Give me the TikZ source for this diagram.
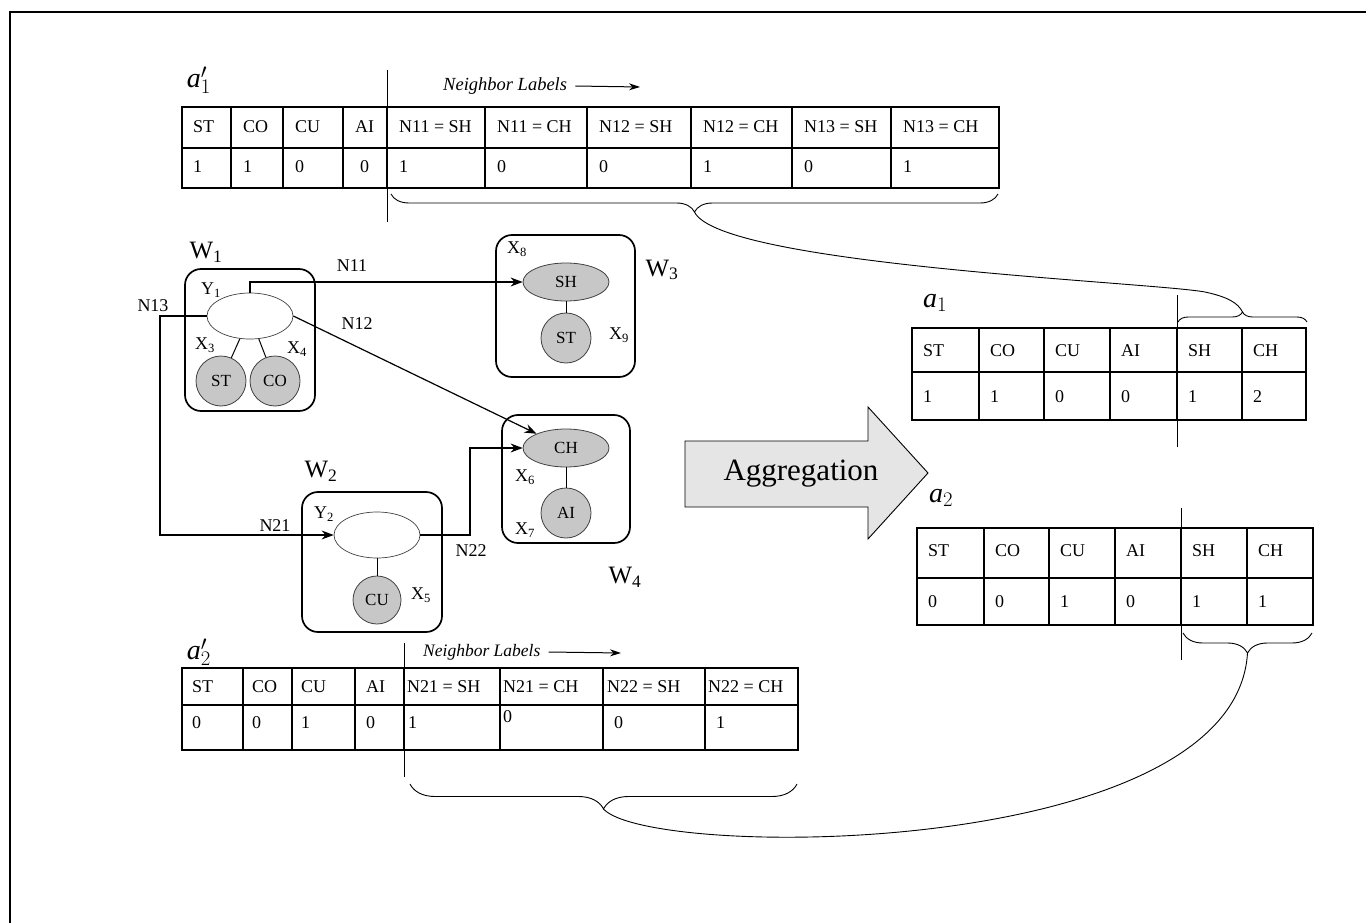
\documentclass[tikz,border=0pt]{standalone}
\usepackage{fontspec}
\setmainfont{Liberation Serif}
\usetikzlibrary{arrows.meta,shapes.geometric,decorations.pathreplacing,calc}
\begin{document}
\begin{tikzpicture}[x=1pt,y=-1pt,
  tl/.style={line width=1.1pt},
  divl/.style={line width=1pt},
  cell/.style={anchor=west, inner sep=0pt, text height=12pt, text depth=0pt, font=\fontsize{18}{21}\selectfont},
  lab/.style={inner sep=0pt, font=\fontsize{18}{21}\selectfont},
  wlab/.style={inner sep=0pt, font=\fontsize{25}{29}\selectfont},
  alab/.style={inner sep=0pt, font=\fontsize{28}{32}\selectfont},
  nlab/.style={inner sep=0pt, anchor=west, font=\fontsize{18.5}{21}\selectfont\itshape},
  wbox/.style={draw, line width=1.7pt, rounded corners=16pt},
  gnode/.style={draw=black!75, line width=0.8pt, fill=black!22, font=\fontsize{17}{20}\selectfont, inner sep=0pt},
  cnode/.style={gnode, circle, minimum size=50pt},
  enode/.style={gnode, ellipse, minimum width=86pt, minimum height=38pt},
  ynode/.style={draw=black!75, line width=0.7pt, fill=white, ellipse, minimum width=86pt, minimum height=46pt, inner sep=0pt},
  arr/.style={line width=1.2pt, -{Stealth[length=12pt,width=9pt]}},
  sarr/.style={line width=1pt, -{Stealth[length=11pt,width=7pt]}},
  brc/.style={decorate, line width=0.9pt},
  edge/.style={line width=1pt},
]
\useasboundingbox (0,0) rectangle (1366,923);
% frame
\draw[line width=2pt] (10,923) -- (10,12.5) -- (1366,12.5);

% ---------- top table a'1 ----------
\node[alab] (a1p) at (199,80) {$\hbox{\itshape a}'_1$};
\draw[tl] (182,107) rectangle (999,188);
\draw[tl] (182,148) -- (999,148);
\foreach \x in {231,283,343,387,485,587,691,792,891} \draw[tl] (\x,107) -- (\x,188);
\foreach \x/\t [count=\i] in {193/ST,243/CO,295/CU,355/AI,399/N11 = SH,497/N11 = CH,599/N12 = SH,703/N12 = CH,804/N13 = SH,903/N13 = CH}
  \node[cell] (tah\i) at (\x,127) {\t};
\foreach \x/\t [count=\i] in {193/1,243/1,295/0,360/0,399/1,497/0,599/0,703/1,804/0,903/1}
  \node[cell] (tav\i) at (\x,167) {\t};
\draw[divl] (387,70) -- (387,222);
\node[nlab] (nl1) at (443,86) {Neighbor Labels};
\coordinate (nl1end) at (640,87);
\draw[sarr] ([xshift=8pt]nl1.east) -- (nl1end);
\draw[brc, decoration={brace, mirror, amplitude=18pt}] (391,194) -- (998,194);
\coordinate (b1tip) at (694.5,212);

% ---------- a1 table ----------
\node[alab] (a1) at (935,303) {$\hbox{\itshape a}_1$};
\draw[tl] (912,328) rectangle (1306,420);
\draw[tl] (912,372) -- (1306,372);
\foreach \x in {979,1044,1110,1177,1242} \draw[tl] (\x,328) -- (\x,420);
\foreach \x/\t [count=\i] in {923/ST,990/CO,1055/CU,1121/AI,1188/SH,1253/CH}
  \node[cell] (a1h\i) at (\x,350) {\t};
\foreach \x/\t [count=\i] in {923/1,990/1,1055/0,1121/0,1188/1,1253/2}
  \node[cell] (a1v\i) at (\x,396) {\t};
\draw[divl] (1177,295) -- (1177,447);
\draw[brc, decoration={brace, amplitude=10pt}] (1178,322) -- (1307,322);
\coordinate (ba1tip) at (1242.5,312);

% ---------- a2 table ----------
\node[alab] (a2) at (941,498) {$\hbox{\itshape a}_2$};
\draw[tl] (917,528) rectangle (1313,625);
\draw[tl] (917,578) -- (1313,578);
\foreach \x in {984,1049,1115,1181,1247} \draw[tl] (\x,528) -- (\x,625);
\foreach \x/\t [count=\i] in {928/ST,995/CO,1060/CU,1126/AI,1192/SH,1258/CH}
  \node[cell] (a2h\i) at (\x,550) {\t};
\foreach \x/\t [count=\i] in {928/0,995/0,1060/1,1126/0,1192/1,1258/1}
  \node[cell] (a2v\i) at (\x,601) {\t};
\draw[divl] (1181,508) -- (1181,660);
\draw[brc, decoration={brace, mirror, amplitude=20pt}] (1183,633) -- (1312,633);
\coordinate (ba2tip) at (1247.5,653);

% ---------- bottom table a'2 ----------
\node[alab] (a2p) at (199,652) {$\hbox{\itshape a}'_2$};
\draw[tl] (182,668) rectangle (798,750);
\draw[tl] (182,705) -- (798,705);
\foreach \x in {243,292,355,404,500,603,705} \draw[tl] (\x,668) -- (\x,750);
\foreach \x/\t [count=\i] in {192/ST,252/CO,301/CU,366/AI,407/N21 =\ SH,503/N21 =\ CH,607/N22 =\ SH,708/N22 =\ CH}
  \node[cell] (tbh\i) at (\x,686) {\t};
\foreach \x/\y/\t [count=\i] in {192/722/0,252/722/0,301/722/1,366/722/0,408/722/1,503/716/0,614/722/0,716/722/1}
  \node[cell] (tbv\i) at (\x,\y) {\t};
\draw[divl] (404,643) -- (404,777);
\node[nlab, font=\fontsize{17.5}{20}\selectfont\itshape] (nl2) at (423,652) {Neighbor Labels};
\coordinate (nl2end) at (621,653);
\draw[sarr] ([xshift=8pt]nl2.east) -- (nl2end);
\draw[brc, decoration={brace, mirror, amplitude=25pt}] (410,784) -- (797,784);
\coordinate (b2tip) at (603.5,809);

% ---------- long connectors ----------
\draw[line width=0.9pt] (b1tip) .. controls (720,265) and (1150,282) .. (1205,292) .. controls (1228,297) and (1238,303) .. (ba1tip);
\draw[line width=0.9pt] (b2tip) .. controls (650,860) and (1235,860) .. (ba2tip);

% ---------- graph ----------
\node[wbox, minimum width=130pt, minimum height=142pt] (W1box) at (250,340) {};
\node[wbox, minimum width=140pt, minimum height=140pt] (W2box) at (372,562) {};
\node[wbox, minimum width=139pt, minimum height=142pt] (W3box) at (565.5,306) {};
\node[wbox, minimum width=128pt, minimum height=128pt] (W4box) at (566,479) {};

\node[wlab] (W1) at (206,252) {W\textsubscript{1}};
\node[wlab] (W2) at (321,471) {W\textsubscript{2}};
\node[wlab] (W3) at (662,270) {W\textsubscript{3}};
\node[wlab] (W4) at (625,577) {W\textsubscript{4}};

\node[ynode] (Y1) at (250,316) {};
\node[cnode] (ST1) at (221,381) {ST};
\node[cnode] (CO1) at (275,381) {CO};
\node[ynode] (Y2) at (377,535) {};
\node[cnode, minimum size=48pt] (CU) at (377,600) {CU};
\node[enode] (SH) at (566,282) {SH};
\node[cnode] (ST3) at (566,338) {ST};
\node[enode] (CH) at (566,448) {CH};
\node[cnode] (AI) at (566,513) {AI};

\draw[edge] (Y1) -- (ST1);
\draw[edge] (Y1) -- (CO1);
\draw[edge] (Y2) -- (CU);
\draw[edge] (SH) -- (ST3);
\draw[edge] (CH) -- (AI);

\node[lab] (lY1) at (211,290) {Y\textsubscript{1}};
\node[lab] (lX3) at (205,345) {X\textsubscript{3}};
\node[lab] (lX4) at (297,349) {X\textsubscript{4}};
\node[lab] (lX8) at (517,249) {X\textsubscript{8}};
\node[lab] (lX9) at (619,335) {X\textsubscript{9}};
\node[lab] (lX6) at (525,477) {X\textsubscript{6}};
\node[lab] (lX7) at (525,530) {X\textsubscript{7}};
\node[lab] (lY2) at (324,514) {Y\textsubscript{2}};
\node[lab] (lX5) at (421,595) {X\textsubscript{5}};

\coordinate (n13c) at (160,316);
\coordinate (n22c) at (470,448);
\draw[arr] (Y1.north) |- (SH.west);
\draw[arr] (Y1.east) -- (CH);
\draw[arr] (Y1.west) -- (n13c) |- (Y2.west);
\draw[arr] (Y2.east) -| (n22c) -- (CH.west);

\node[lab] (N11) at (352,266) {N11};
\node[lab] (N12) at (357,324) {N12};
\node[lab] (N13) at (153,306) {N13};
\node[lab] (N21) at (275,526) {N21};
\node[lab] (N22) at (471,551) {N22};

% ---------- aggregation arrow ----------
\draw[fill=black!10, line width=0.9pt] (685,441) -- (868,441) -- (868,407) -- (928,473) -- (868,539) -- (868,507) -- (685,507) -- cycle;
\node[inner sep=0pt, font=\fontsize{31}{36}\selectfont] (agg) at (801,474) {Aggregation};
\end{tikzpicture}
\end{document}
